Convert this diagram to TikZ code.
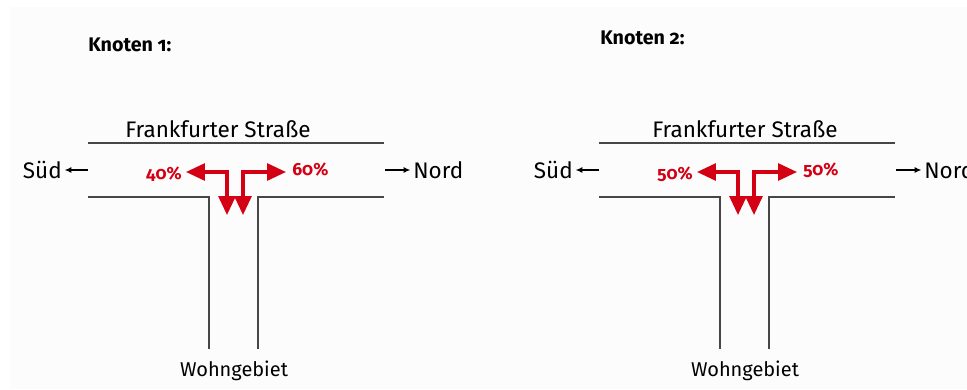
\documentclass[tikz,border=0pt]{standalone}
\usepackage{fontspec}
\setmainfont{Fira Sans}[Numbers=OldStyle]
\usetikzlibrary{arrows.meta}
\definecolor{roadgray}{RGB}{70,70,70}
\definecolor{flowred}{RGB}{212,0,20}
\definecolor{bggray}{RGB}{252,252,252}
\begin{document}
\begin{tikzpicture}[x=0.025cm,y=-0.025cm,
    road/.style={draw=roadgray,line width=1.4pt},
    flow/.style={draw=flowred,line width=2.2pt,{Triangle[length=0.47cm,width=0.42cm]}-{Triangle[length=0.47cm,width=0.42cm]}},
    dir/.style={line width=1pt,shorten >=1.8pt,-{Latex[length=1.7mm,width=1.5mm]}},
    head/.style={font=\fontsize{14}{16}\selectfont\bfseries,anchor=west,inner sep=0pt},
    street/.style={font=\fontsize{16}{19}\selectfont,inner sep=0pt},
    area/.style={font=\fontsize{14.2}{17}\selectfont,inner sep=0pt},
    pct/.style={font=\fontsize{12.5}{15}\selectfont\bfseries,text=flowred,inner sep=0pt}]
        \pgfmathsetmacro{\d}{511}

        \useasboundingbox (0,0) rectangle (967,389);
        \clip (0,0) rectangle (967,389);
        \fill[bggray] (10,7) rectangle (967,389);

        % Knoten 1
        \node[head] (K1) at (88,45) {Knoten 1:};
        \node[street] (FS1) at (218,129) {Frankfurter Straße};
        \node[street,anchor=east] (S1) at (62,170) {Süd};
        \node[street,anchor=west] (N1) at (413,170) {Nord};
        \node[area] (W1) at (234,371) {Wohngebiet};
        \node[pct,anchor=east] (P1) at (182,174) {40\%};
        \node[pct,anchor=west] (Q1) at (292,170) {60\%};

        \coordinate (A1) at (88,143);
        \coordinate (B1) at (384,143);
        \coordinate (C1) at (88,197);
        \coordinate (D1) at (209,197);
        \coordinate (E1) at (209,349);
        \coordinate (F1) at (258,349);
        \coordinate (G1) at (258,197);
        \coordinate (H1) at (384,197);

        \coordinate (L1) at (186,172);
        \coordinate (M1) at (227,172);
        \coordinate (U1) at (227,215);
        \coordinate (R1) at (286,172);
        \coordinate (O1) at (243,172);
        \coordinate (V1) at (243,215);

        \draw[road] (A1) -- (B1);
        \draw[road] (C1) -- (D1) -- (E1);
        \draw[road] (F1) -- (G1) -- (H1);
        \draw[flow] (L1) -- (M1) -- (U1);
        \draw[flow] (R1) -- (O1) -- (V1);
        \draw[dir] (88,170) -- (S1);
        \draw[dir] (385,170) -- (N1);

        % Knoten 2
        \node[head] (K2) at (600,38) {Knoten 2:};
        \node[street] (FS2) at (745,129) {Frankfurter Straße};
        \node[street,anchor=east] (S2) at (62+\d,170) {Süd};
        \node[street,anchor=west] (N2) at (413+\d,170) {Nord};
        \node[area] (W2) at (745,371) {Wohngebiet};
        \node[pct,anchor=east] (P2) at (182+\d,174) {50\%};
        \node[pct,anchor=west] (Q2) at (292+\d,170) {50\%};

        \coordinate (A2) at (88+\d,143);
        \coordinate (B2) at (384+\d,143);
        \coordinate (C2) at (88+\d,197);
        \coordinate (D2) at (209+\d,197);
        \coordinate (E2) at (209+\d,349);
        \coordinate (F2) at (258+\d,349);
        \coordinate (G2) at (258+\d,197);
        \coordinate (H2) at (384+\d,197);

        \coordinate (L2) at (186+\d,172);
        \coordinate (M2) at (227+\d,172);
        \coordinate (U2) at (227+\d,215);
        \coordinate (R2) at (286+\d,172);
        \coordinate (O2) at (243+\d,172);
        \coordinate (V2) at (243+\d,215);

        \draw[road] (A2) -- (B2);
        \draw[road] (C2) -- (D2) -- (E2);
        \draw[road] (F2) -- (G2) -- (H2);
        \draw[flow] (L2) -- (M2) -- (U2);
        \draw[flow] (R2) -- (O2) -- (V2);
        \draw[dir] (88+\d,170) -- (S2);
        \draw[dir] (385+\d,170) -- (N2);
      \end{tikzpicture}
\end{document}
